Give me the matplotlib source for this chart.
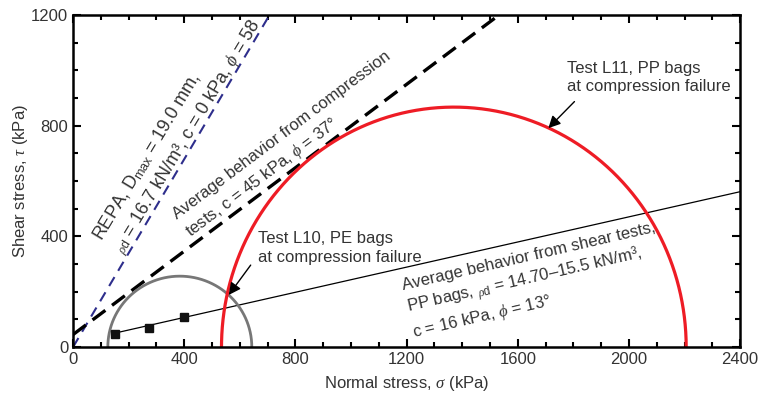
import numpy as np
import matplotlib
matplotlib.use('Agg')
import matplotlib.pyplot as plt
from matplotlib.ticker import MultipleLocator

plt.rcParams['font.family'] = ['Liberation Sans', 'DejaVu Sans']
plt.rcParams['mathtext.fontset'] = 'custom'
plt.rcParams['mathtext.rm'] = 'Liberation Sans'
plt.rcParams['mathtext.it'] = 'Liberation Serif:italic'
plt.rcParams['mathtext.fallback'] = 'stix'

# Mohr circles: sigma_3, sigma_1, peak tau as drawn (kPa)
circle_L10 = (125, 643, 256)
circle_L11 = (534, 2206, 867)

# Failure envelopes as drawn: cohesion c (kPa), angle phi (deg), sigma range
env_repa = dict(c=0, phi=59.5, s0=0, s1=800)
env_comp = dict(c=45, phi=37, s0=0, s1=1600)
env_shear = dict(c=16, phi=12.8, s0=150, s1=2400)

# Shear test points
shear_sigma = [151, 274, 400]
shear_tau = [47, 67, 107]

ink = '#333333'

fig = plt.figure(figsize=(7.59, 3.94), dpi=100)
ax = fig.add_axes([0.0963, 0.1193, 0.8788, 0.8427])


def envelope(e):
    s = np.linspace(e['s0'], e['s1'], 50)
    return s, e['c'] + s * np.tan(np.radians(e['phi']))


def mohr(s3, s1, top):
    t = np.linspace(0, np.pi, 300)
    c, r = (s1 + s3) / 2, (s1 - s3) / 2
    return c + r * np.cos(t), top * np.sin(t)


s, t = envelope(env_repa)
ax.plot(s, t, color='#2e2e8c', lw=1.5, dashes=(5, 3.5))
s, t = envelope(env_comp)
ax.plot(s, t, color='k', lw=2.4, dashes=(4.8, 2.5))
s, t = envelope(env_shear)
ax.plot(s, t, color='k', lw=0.9)

x, y = mohr(*circle_L10)
ax.plot(x, y, color='#777777', lw=2)
x, y = mohr(*circle_L11)
ax.plot(x, y, color='#ee1c25', lw=2.3)

ax.plot(shear_sigma, shear_tau, 's', color='#111111', ms=6.2, zorder=5)

fs = 12
# va='baseline' on multi-line text anchors the last line
ax.text(165, 344, 'REPA, D$_{\\rm max}$ = 19.0 mm,\n'
        '$_{\\rho\\rm d}$ = 16.7 kN/m³, c = 0 kPa, $\\phi$ = 58',
        rotation=59, rotation_mode='anchor', ha='left', va='baseline',
        fontsize=13, color=ink, linespacing=1.3)
ax.text(410, 412, 'Average behavior from compression\n'
        'tests, c = 45 kPa, $\\phi$ = 37°',
        rotation=37, rotation_mode='anchor', ha='left', va='baseline',
        fontsize=fs, color=ink, linespacing=1.35)
ax.text(1223, 51, 'Average behavior from shear tests,\n'
        'PP bags, $_{\\rho\\rm d}$ = 14.70–15.5 kN/m³,\n'
        'c = 16 kPa, $\\phi$ = 13°',
        rotation=13, rotation_mode='anchor', ha='left', va='baseline',
        fontsize=fs, color=ink, linespacing=1.3)

ax.text(664, 308, 'Test L10, PE bags\nat compression failure',
        ha='left', va='baseline', fontsize=fs, color=ink, linespacing=1.3)
ax.annotate('', xy=(560, 188), xytext=(639, 296),
            arrowprops=dict(arrowstyle='-|>', color='k', lw=1,
                            mutation_scale=18, shrinkA=0, shrinkB=0))
ax.text(1778, 924, 'Test L11, PP bags\nat compression failure',
        ha='left', va='baseline', fontsize=fs, color=ink, linespacing=1.3)
ax.annotate('', xy=(1710, 791), xytext=(1804, 887),
            arrowprops=dict(arrowstyle='-|>', color='k', lw=1,
                            mutation_scale=18, shrinkA=0, shrinkB=0))

ax.set_xlim(0, 2400)
ax.set_ylim(0, 1200)
ax.xaxis.set_major_locator(MultipleLocator(400))
ax.xaxis.set_minor_locator(MultipleLocator(100))
ax.yaxis.set_major_locator(MultipleLocator(400))
ax.yaxis.set_minor_locator(MultipleLocator(100))
ax.tick_params(which='both', direction='in', top=True, right=True,
               labelsize=fs, labelcolor=ink, width=1.5)
ax.tick_params(which='major', length=6)
ax.tick_params(which='minor', length=3.5)
for sp in ax.spines.values():
    sp.set_linewidth(1.8)

ax.set_xlabel('Normal stress, $\\sigma$ (kPa)', fontsize=fs, color=ink,
              labelpad=5)
ax.set_ylabel('Shear stress, $\\tau$ (kPa)', fontsize=fs, color=ink,
              labelpad=1)

fig.savefig('out.png', dpi=100)
